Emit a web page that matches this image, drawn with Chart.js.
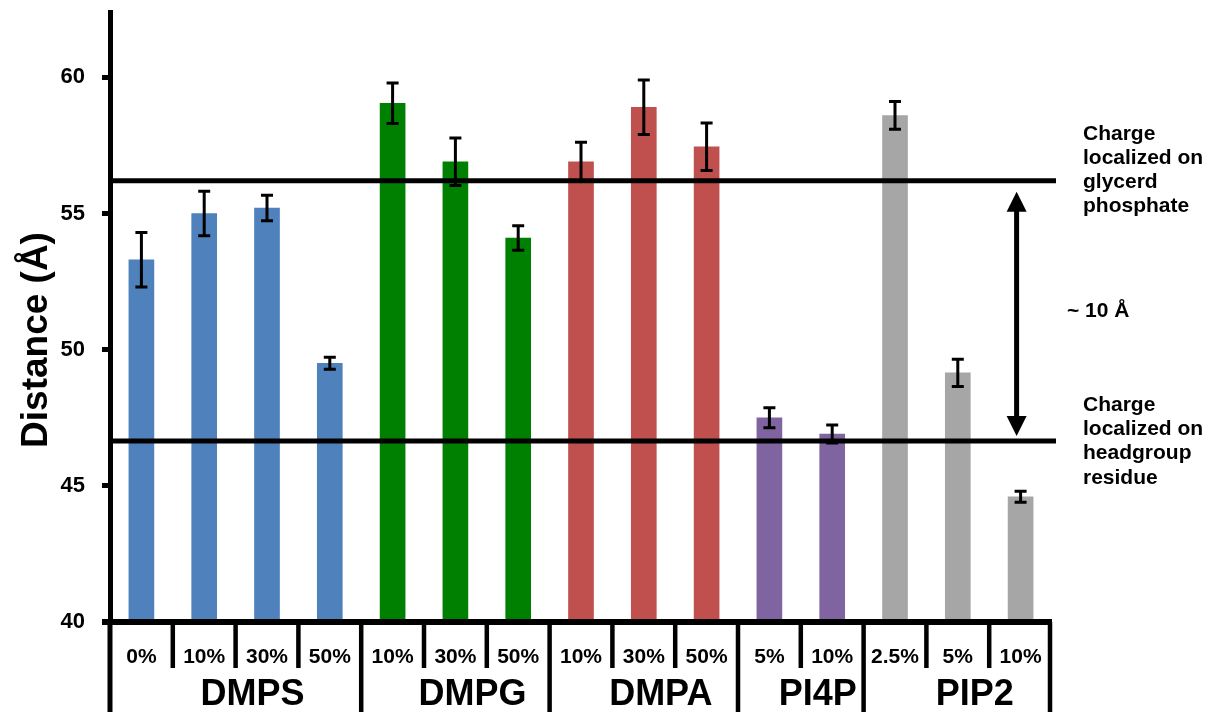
<!DOCTYPE html>
<html>
<head>
<meta charset="utf-8">
<script src="https://cdn.jsdelivr.net/npm/chart.js@4.4.1/dist/chart.umd.min.js"></script>
<style>
  html, body { margin: 0; padding: 0; background: #fff; }
</style>
</head>
<body>
<canvas id="distChart" width="1212" height="712"></canvas>
<script>
// data
const categories = ['0%', '10%', '30%', '50%', '10%', '30%', '50%', '10%', '30%', '50%', '5%', '10%', '2.5%', '5%', '10%'];
const groupNames = ['DMPS', 'DMPG', 'DMPA', 'PI4P', 'PIP2'];
const groupSizes = [4, 3, 3, 2, 3];
const groupColors = ['#4F81BD', '#008000', '#C0504D', '#8064A2', '#A6A6A6'];
const distance = [53.3, 55.0, 55.2, 49.5, 59.05, 56.9, 54.1, 56.9, 58.9, 57.45, 47.5, 46.9, 58.6, 49.15, 44.6];
const errors = [1.0, 0.82, 0.47, 0.22, 0.74, 0.87, 0.45, 0.72, 1.0, 0.87, 0.37, 0.33, 0.51, 0.5, 0.2];
const yTicks = [40, 45, 50, 55, 60];
const refLines = [56.2, 46.65];
const refLabels = [
    ['Charge', 'localized on', 'glycerd', 'phosphate'],
    ['Charge', 'localized on', 'headgroup', 'residue']
];
const gapLabel = '~ 10 Å';
const yTitle = 'Distance (Å)';

const FONT = '"Liberation Sans", Arial, Helvetica, sans-serif';

// one colour per bar, taken from its group
const barColors = [];
groupSizes.forEach((n, g) => {
    for (let k = 0; k < n; k++) barColors.push(groupColors[g]);
});

const figurePlugin = {
    id: 'figureExtras',
    afterDatasetsDraw(chart) {
        const { ctx, chartArea, scales: { x, y } } = chart;
        ctx.save();

        // error bars
        ctx.strokeStyle = '#000';
        ctx.lineWidth = 3;
        distance.forEach((v, i) => {
            const px = x.getPixelForValue(i);
            const top = y.getPixelForValue(v + errors[i]);
            const bot = y.getPixelForValue(v - errors[i]);
            ctx.beginPath();
            ctx.moveTo(px, top); ctx.lineTo(px, bot);
            ctx.moveTo(px - 6, top); ctx.lineTo(px + 6, top);
            ctx.moveTo(px - 6, bot); ctx.lineTo(px + 6, bot);
            ctx.stroke();
        });

        // horizontal reference lines
        ctx.lineWidth = 5;
        refLines.forEach(v => {
            const py = y.getPixelForValue(v);
            ctx.beginPath();
            ctx.moveTo(chartArea.left, py);
            ctx.lineTo(chartArea.right + 4, py);
            ctx.stroke();
        });

        // double arrow between the two lines
        const ax = x.getPixelForValue(categories.length - 1) - 4;
        const aTop = y.getPixelForValue(refLines[0]) + 11;
        const aBot = y.getPixelForValue(refLines[1]) - 5;
        const head = 20;
        ctx.beginPath();
        ctx.moveTo(ax, aTop + head - 2);
        ctx.lineTo(ax, aBot - head + 2);
        ctx.stroke();
        ctx.fillStyle = '#000';
        ctx.beginPath();
        ctx.moveTo(ax, aTop);
        ctx.lineTo(ax - 10, aTop + head);
        ctx.lineTo(ax + 10, aTop + head);
        ctx.closePath();
        ctx.fill();
        ctx.beginPath();
        ctx.moveTo(ax, aBot);
        ctx.lineTo(ax - 10, aBot - head);
        ctx.lineTo(ax + 10, aBot - head);
        ctx.closePath();
        ctx.fill();

        ctx.restore();
    },
    afterDraw(chart) {
        const { ctx, chartArea, scales: { x, y } } = chart;
        const bottom = chartArea.bottom;
        const H = chart.height;
        ctx.save();
        ctx.strokeStyle = '#000';
        ctx.fillStyle = '#000';

        // y axis runs on down through the label table
        ctx.lineWidth = 5;
        ctx.beginPath();
        ctx.moveTo(chartArea.left, bottom);
        ctx.lineTo(chartArea.left, H);
        ctx.stroke();

        // x axis
        ctx.lineWidth = 6;
        ctx.beginPath();
        ctx.moveTo(chartArea.left - 8, bottom);
        ctx.lineTo(chartArea.right, bottom);
        ctx.stroke();

        // separators: short between sub categories, full height between groups
        const groupEnds = [];
        let acc = 0;
        groupSizes.forEach(n => { acc += n; groupEnds.push(acc); });
        ctx.lineWidth = 4.5;
        for (let i = 1; i <= categories.length; i++) {
            const bx = i === categories.length ? chartArea.right - 2 : x.getPixelForValue(i - 0.5);
            const full = groupEnds.includes(i);
            ctx.beginPath();
            ctx.moveTo(bx, bottom);
            ctx.lineTo(bx, full ? H : bottom + 46);
            ctx.stroke();
        }

        // category labels
        ctx.textAlign = 'center';
        ctx.textBaseline = 'middle';
        ctx.font = 'bold 21px ' + FONT;
        categories.forEach((c, i) => {
            ctx.fillText(c, x.getPixelForValue(i), bottom + 35);
        });

        // group labels
        ctx.font = 'bold 36px ' + FONT;
        let start = 0;
        groupNames.forEach((name, g) => {
            const end = start + groupSizes[g] - 1;
            const cx = (x.getPixelForValue(start - 0.5) + x.getPixelForValue(end + 0.5)) / 2 + 17;
            ctx.fillText(name, cx, bottom + 73);
            start = end + 1;
        });

        // y axis title
        ctx.save();
        ctx.translate(47, 340);
        ctx.rotate(-Math.PI / 2);
        ctx.textAlign = 'center';
        ctx.textBaseline = 'alphabetic';
        ctx.font = 'bold 37px ' + FONT;
        ctx.fillText(yTitle, 0, 0);
        ctx.restore();

        // notes on the right
        ctx.textAlign = 'left';
        ctx.textBaseline = 'alphabetic';
        ctx.font = 'bold 21px ' + FONT;
        const tx = chartArea.right + 31;
        const firstBase = [
            y.getPixelForValue(refLines[0]) - 41,
            y.getPixelForValue(refLines[1]) - 30
        ];
        refLabels.forEach((lines, k) => {
            lines.forEach((t, j) => ctx.fillText(t, tx, firstBase[k] + j * 24.2));
        });
        const mid = (y.getPixelForValue(refLines[0]) + y.getPixelForValue(refLines[1])) / 2;
        ctx.fillText(gapLabel, chartArea.right + 15, mid + 6);

        ctx.restore();
    }
};

const data = {
    labels: categories,
    datasets: [{
        label: 'Distance',
        data: distance,
        base: 40,
        backgroundColor: barColors,
        borderWidth: 0,
        barThickness: 25
    }]
};

const configChart = {
    type: 'bar',
    data: data,
    options: {
        responsive: false,
        animation: false,
        devicePixelRatio: 1,
        layout: {
            padding: { left: 0, right: 160, top: 12, bottom: 90 }
        },
        plugins: {
            legend: { display: false },
            title: { display: false },
            tooltip: { enabled: false }
        },
        scales: {
            x: {
                display: false,
                offset: true
            },
            y: {
                min: 40,
                max: 62.4,
                afterBuildTicks: scale => {
                    scale.ticks = yTicks.map(v => ({ value: v }));
                },
                afterFit: scale => {
                    scale.width = 110;
                    scale.paddingTop = 0;
                    scale.paddingBottom = 0;
                },
                border: { display: true, width: 5, color: '#000' },
                grid: {
                    drawOnChartArea: false,
                    drawTicks: true,
                    tickLength: 8,
                    tickWidth: 5,
                    tickColor: '#000'
                },
                ticks: {
                    padding: 17,
                    color: '#000',
                    font: { family: FONT, size: 22, weight: 'bold' }
                }
            }
        }
    },
    plugins: [figurePlugin]
};

let chart = new Chart(document.getElementById('distChart'), configChart);
</script>
</body>
</html>
